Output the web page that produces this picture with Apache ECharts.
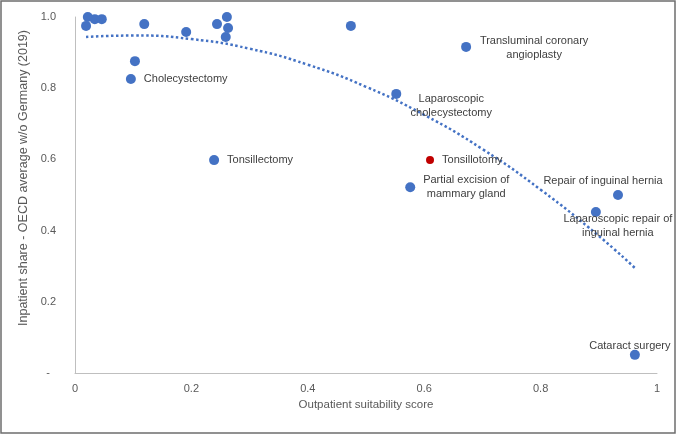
<!DOCTYPE html>
<html>
<head>
<meta charset="utf-8">
<script src="https://cdn.jsdelivr.net/npm/echarts@6/dist/echarts.min.js"></script>
<style>
  html, body { margin: 0; padding: 0; background: #fff; }
  #container { width: 677px; height: 435px; }
</style>
</head>
<body>
<div id="container"></div>
<script>
var dom = document.getElementById("container");
var myChart = echarts.init(dom);

// procedures (blank name = unlabelled point)
var procedures = [
    '', '', '', '', '', '', 'Cholecystectomy', '', '', '', '', '',
    'Tonsillectomy', '', 'Transluminal coronary\nangioplasty',
    'Laparoscopic\ncholecystectomy', 'Tonsillotomy',
    'Partial excision of\nmammary gland', 'Repair of inguinal hernia',
    'Laparoscopic repair of\ninguinal hernia', 'Cataract surgery'
];
var suitability = [
    0.019, 0.022, 0.034, 0.046, 0.119, 0.103, 0.096, 0.191, 0.244, 0.261, 0.263, 0.259,
    0.239, 0.474, 0.672, 0.552, 0.610, 0.576, 0.933, 0.895, 0.962
];
var inpatientShare = [
    0.975, 1.000, 0.994, 0.994, 0.980, 0.876, 0.826, 0.958, 0.980, 1.000, 0.969, 0.944,
    0.598, 0.975, 0.916, 0.784, 0.598, 0.522, 0.500, 0.452, 0.051
];
var highlighted = 'Tonsillotomy';

// dotted trend line
var trendX = [0.019, 0.1, 0.2, 0.3, 0.4, 0.5, 0.6, 0.7, 0.8, 0.9, 0.962];
var trendY = [0.944, 0.948, 0.938, 0.911, 0.866, 0.804, 0.725, 0.629, 0.515, 0.385, 0.295];

var xTicks = ['0', '0.2', '0.4', '0.6', '0.8', '1'];
var yTicks = ['-  ', '0.2', '0.4', '0.6', '0.8', '1.0'];

// label offsets from the point centre (px)
var labelOffsets = {
    'Cholecystectomy': 'right',
    'Tonsillectomy': 'right',
    'Tonsillotomy': 'right',
    'Transluminal coronary\nangioplasty': [68, 1],
    'Laparoscopic\ncholecystectomy': [55, 12],
    'Partial excision of\nmammary gland': [56, 0],
    'Repair of inguinal hernia': [-15, -14],
    'Laparoscopic repair of\ninguinal hernia': [22, 14],
    'Cataract surgery': [-5, -9]
};

var blue = '#4472C4';
var red = '#C00000';
var font = 'Liberation Sans';

var points = suitability.map(function (x, i) {
    var name = procedures[i];
    var isRed = name === highlighted;
    var size = isRed ? 8 : 10;
    var item = {
        name: name,
        value: [x, inpatientShare[i]],
        symbolSize: size,
        itemStyle: { color: isRed ? red : blue, opacity: 1 }
    };
    var off = labelOffsets[name];
    if (off) {
        var lbl = {
            show: true,
            formatter: name,
            color: '#404040',
            fontFamily: font,
            fontSize: 11,
            lineHeight: 14
        };
        if (off === 'right') {
            lbl.position = 'right';
            lbl.distance = 8;
        } else {
            lbl.position = [size / 2 + off[0], size / 2 + off[1]];
            lbl.align = 'center';
            lbl.verticalAlign = 'middle';
        }
        item.label = lbl;
    }
    return item;
});

var trend = trendX.map(function (x, i) { return [x, trendY[i]]; });

option = {
    backgroundColor: '#fff',
    animation: false,
    grid: { left: 75, right: 20, top: 17, bottom: 62 },
    graphic: [{
        type: 'rect',
        shape: { x: 1, y: 1, width: 674, height: 432 },
        style: { fill: 'none', stroke: '#6e6e6e', lineWidth: 1.5 },
        silent: true
    }],
    xAxis: {
        type: 'value',
        min: 0,
        max: 1,
        interval: 0.2,
        name: 'Outpatient suitability score',
        nameLocation: 'middle',
        nameGap: 23,
        nameTextStyle: { color: '#595959', fontFamily: font, fontSize: 11.5 },
        axisLine: { lineStyle: { color: '#BFBFBF', width: 1 } },
        axisTick: { show: false },
        splitLine: { show: false },
        axisLabel: {
            color: '#595959', fontFamily: font, fontSize: 11, margin: 10,
            formatter: function (v) { return xTicks[Math.round(v / 0.2)]; }
        }
    },
    yAxis: {
        type: 'value',
        min: 0,
        max: 1,
        interval: 0.2,
        name: 'Inpatient share - OECD average w/o Germany (2019)',
        nameLocation: 'middle',
        nameGap: 39,
        nameTextStyle: { color: '#595959', fontFamily: font, fontSize: 12.5, padding: [0, 0, 0, 34] },
        axisLine: { show: true, lineStyle: { color: '#BFBFBF', width: 1 } },
        axisTick: { show: false },
        splitLine: { show: false },
        axisLabel: {
            color: '#595959', fontFamily: font, fontSize: 11, margin: 19,
            formatter: function (v) { return yTicks[Math.round(v / 0.2)]; }
        }
    },
    series: [{
        type: 'line',
        data: trend,
        smooth: true,
        showSymbol: false,
        silent: true,
        z: 1,
        lineStyle: { color: blue, width: 2.5, type: [2.5, 2.5] }
    }, {
        type: 'scatter',
        data: points,
        z: 3
    }]
};

if (option && typeof option === "object") {
    myChart.setOption(option, true);
}
</script>
</body>
</html>
